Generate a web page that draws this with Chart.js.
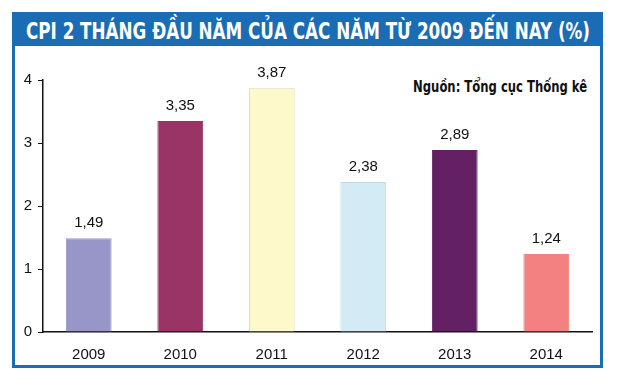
<!DOCTYPE html>
<html>
<head>
<meta charset="utf-8">
<script src="https://cdn.jsdelivr.net/npm/chart.js@4.4.1/dist/chart.umd.min.js"></script>
<style>
  html,body{margin:0;padding:0;background:#fff;}
  #wrap{position:relative;width:620px;height:376px;overflow:hidden;}
  #frame{position:absolute;left:12px;top:12px;width:585px;height:350px;border:3px solid #1a6cb4;box-sizing:content-box;}
  #titlebar{position:absolute;left:12px;top:12px;width:591px;height:34px;background:#1a6cb4;}
  #title{position:absolute;left:26px;top:18px;white-space:nowrap;color:#fff;font-family:"Liberation Sans Narrow","DejaVu Sans Condensed",sans-serif;font-weight:bold;font-size:23px;line-height:26px;transform-origin:0 0;}
  #source{position:absolute;top:78px;white-space:nowrap;color:#111;font-family:"Liberation Sans Narrow","DejaVu Sans Condensed",sans-serif;font-weight:bold;font-size:15px;line-height:18px;transform-origin:100% 0;right:33px;}
  canvas{position:absolute;left:0;top:0;}
</style>
</head>
<body>
<div id="wrap">
  <div id="frame"></div>
  <div id="titlebar"></div>
  <div id="title">CPI 2 THÁNG ĐẦU NĂM CỦA CÁC NĂM TỪ 2009 ĐẾN NAY (%)</div>
  <div id="source">Nguồn: Tổng cục Thống kê</div>
  <canvas id="c" width="620" height="376"></canvas>
</div>
<script>
const categories = ["2009", "2010", "2011", "2012", "2013", "2014"];
const cpiValues = [1.49, 3.35, 3.87, 2.38, 2.89, 1.24];
const yTicks = [0, 1, 2, 3, 4];
const barColors = ["#9896c8", "#9a3366", "#fdf9cb", "#d3ebf5", "#632062", "#f38181"];
const barBorders = ["#9896c8", "#9a3366", "#dcd8aa", "#bddbe7", "#632062", "#f38181"];

// fit title/source widths
function fitWidth(id, target) {
  const el = document.getElementById(id);
  const w = el.getBoundingClientRect().width;
  el.style.transform = "scaleX(" + (target / w) + ")";
}
fitWidth("title", 564);
fitWidth("source", 174);

const valueLabels = {
  id: "valueLabels",
  afterDatasetsDraw(chart) {
    const ctx = chart.ctx;
    const meta = chart.getDatasetMeta(0);
    ctx.save();
    ctx.fillStyle = "#111";
    ctx.font = "15px 'Liberation Sans', Arial, sans-serif";
    ctx.textAlign = "center";
    ctx.textBaseline = "alphabetic";
    meta.data.forEach((bar, i) => {
      const v = cpiValues[i].toFixed(2).replace(".", ",");
      ctx.fillText(v, bar.x, bar.y - 11);
    });
    ctx.restore();
  }
};

new Chart(document.getElementById("c"), {
  type: "bar",
  data: {
    labels: categories,
    datasets: [{
      data: cpiValues,
      backgroundColor: barColors,
      borderColor: barBorders,
      borderWidth: 1,
      barPercentage: 0.5,
      categoryPercentage: 1.0
    }]
  },
  options: {
    responsive: false,
    animation: false,
    devicePixelRatio: 1,
    layout: { padding: { left: 0, top: 80, right: 28, bottom: 14 } },
    plugins: { legend: { display: false }, tooltip: { enabled: false }, title: { display: false } },
    scales: {
      x: {
        afterFit(s) { s.height = 30; },
        grid: { display: true, drawOnChartArea: false, drawTicks: false },
        border: { color: "#111", width: 1.5 },
        ticks: { color: "#111", font: { family: "'Liberation Sans', Arial, sans-serif", size: 15 }, padding: 14 }
      },
      y: {
        min: 0, max: 4,
        afterFit(s) { s.width = 43; },
        afterBuildTicks(s) { s.ticks = yTicks.map(v => ({ value: v })); },
        grid: { display: true, drawOnChartArea: false, drawTicks: true, tickLength: 5, color: "#111", lineWidth: 1 },
        border: { color: "#111", width: 1.5 },
        ticks: { color: "#111", font: { family: "'Liberation Sans', Arial, sans-serif", size: 15 }, padding: 6 }
      }
    }
  },
  plugins: [valueLabels]
});
</script>
</body>
</html>
